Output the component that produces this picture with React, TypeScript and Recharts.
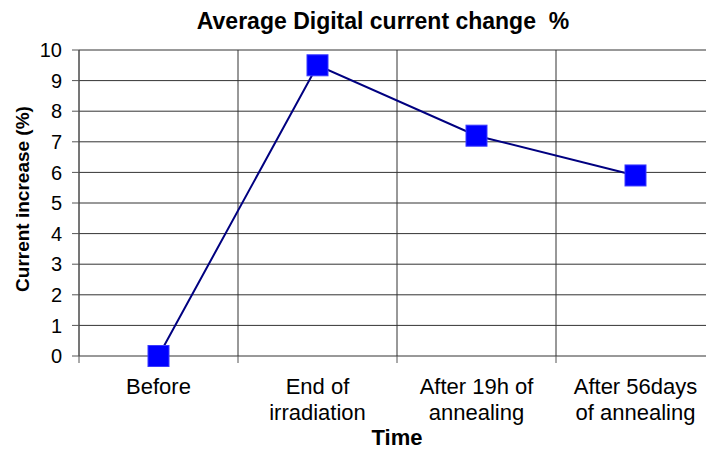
import React from 'react';
import { LineChart, Line, XAxis, YAxis, CartesianGrid, Label } from 'recharts';

// Measurement stages (each label may wrap onto two lines)
const stageLines: string[][] = [
  ['Before'],
  ['End of', 'irradiation'],
  ['After 19h of', 'annealing'],
  ['After 56days', 'of annealing'],
];

// Average digital current increase (%) at each stage
const currentIncrease: number[] = [0, 9.5, 7.2, 5.9];

const yTicks: number[] = [0, 1, 2, 3, 4, 5, 6, 7, 8, 9, 10];

const FONT = '"Liberation Sans", Arial, Helvetica, sans-serif';
const CHART_WIDTH = 720;
const CHART_HEIGHT = 450;
const MARGIN = { top: 50, right: 5, bottom: 0, left: 0 };
const Y_AXIS_WIDTH = 79;
const X_AXIS_HEIGHT = 94;
const PLOT_WIDTH = CHART_WIDTH - MARGIN.left - MARGIN.right - Y_AXIS_WIDTH;
const HALF_BAND = PLOT_WIDTH / (stageLines.length * 2);

// Stage boundaries carry the grid lines; stages sit half-way between them
const boundaryTicks: number[] = stageLines.map((_, i) => i).concat([stageLines.length]);

const data = stageLines.map((lines, i) => ({
  pos: i + 0.5,
  stage: lines.join(' '),
  value: currentIncrease[i],
}));

const StageTick = (props: any) => {
  const { x, y, payload } = props;
  const idx = Math.round(payload.value);
  const lines = stageLines[idx];
  if (!lines) return null;
  return (
    <text
      x={x + HALF_BAND}
      y={y}
      textAnchor="middle"
      fill="#000"
      fontFamily={FONT}
      fontSize={22}
    >
      {lines.map((t, k) => (
        <tspan key={k} x={x + HALF_BAND} dy={k === 0 ? 29 : 26}>
          {t}
        </tspan>
      ))}
    </text>
  );
};

const SquareDot = (props: any) => {
  const { cx, cy } = props;
  if (cx == null || cy == null) return null;
  const s = 21;
  return (
    <rect
      x={cx - s / 2}
      y={cy - s / 2}
      width={s}
      height={s}
      fill="#0000FF"
      stroke="#3a3aff"
      strokeWidth={1}
    />
  );
};

export default function App() {
  return (
    <div
      style={{
        position: 'fixed',
        left: 0,
        top: 0,
        width: 706,
        height: 450,
        overflow: 'hidden',
        background: '#fff',
        fontFamily: FONT,
      }}
    >
      <div
        style={{
          position: 'absolute',
          left: 0,
          top: 8,
          width: 766,
          textAlign: 'center',
          fontWeight: 'bold',
          fontSize: 23,
          color: '#000',
          whiteSpace: 'pre',
        }}
      >
        {'Average Digital current change  %'}
      </div>
      <LineChart
        width={CHART_WIDTH}
        height={CHART_HEIGHT}
        data={data}
        margin={MARGIN}
        style={{ position: 'absolute', left: 0, top: 0 }}
      >
        <CartesianGrid stroke="#333" strokeWidth={1} horizontal vertical />
        <XAxis
          dataKey="pos"
          type="number"
          domain={[0, stageLines.length]}
          ticks={boundaryTicks}
          interval={0}
          height={X_AXIS_HEIGHT}
          tickSize={7}
          tickLine={{ stroke: '#555' }}
          axisLine={false}
          tick={<StageTick />}
        >
          <Label
            content={(p: any) => {
              const vb = p.viewBox;
              return (
                <text
                  x={vb.x + vb.width / 2}
                  y={vb.y + 89}
                  textAnchor="middle"
                  fontFamily={FONT}
                  fontWeight="bold"
                  fontSize={22}
                  fill="#000"
                >
                  Time
                </text>
              );
            }}
          />
        </XAxis>
        <YAxis
          type="number"
          domain={[0, 10]}
          ticks={yTicks}
          interval={0}
          width={Y_AXIS_WIDTH}
          tickSize={7}
          tickMargin={10}
          axisLine={{ stroke: '#555' }}
          tickLine={{ stroke: '#555' }}
          tick={{ fill: '#000', fontSize: 20, fontFamily: FONT }}
        >
          <Label
            content={(p: any) => {
              const vb = p.viewBox;
              const cx = vb.x + 22;
              const cy = vb.y + vb.height / 2 - 4;
              return (
                <text
                  x={cx}
                  y={cy}
                  transform={`rotate(-90 ${cx} ${cy})`}
                  textAnchor="middle"
                  dominantBaseline="central"
                  fontFamily={FONT}
                  fontWeight="bold"
                  fontSize={19}
                  fill="#000"
                >
                  Current increase (%)
                </text>
              );
            }}
          />
        </YAxis>
        <Line
          type="linear"
          dataKey="value"
          stroke="#000080"
          strokeWidth={2}
          dot={<SquareDot />}
          activeDot={false}
          isAnimationActive={false}
        />
      </LineChart>
    </div>
  );
}
